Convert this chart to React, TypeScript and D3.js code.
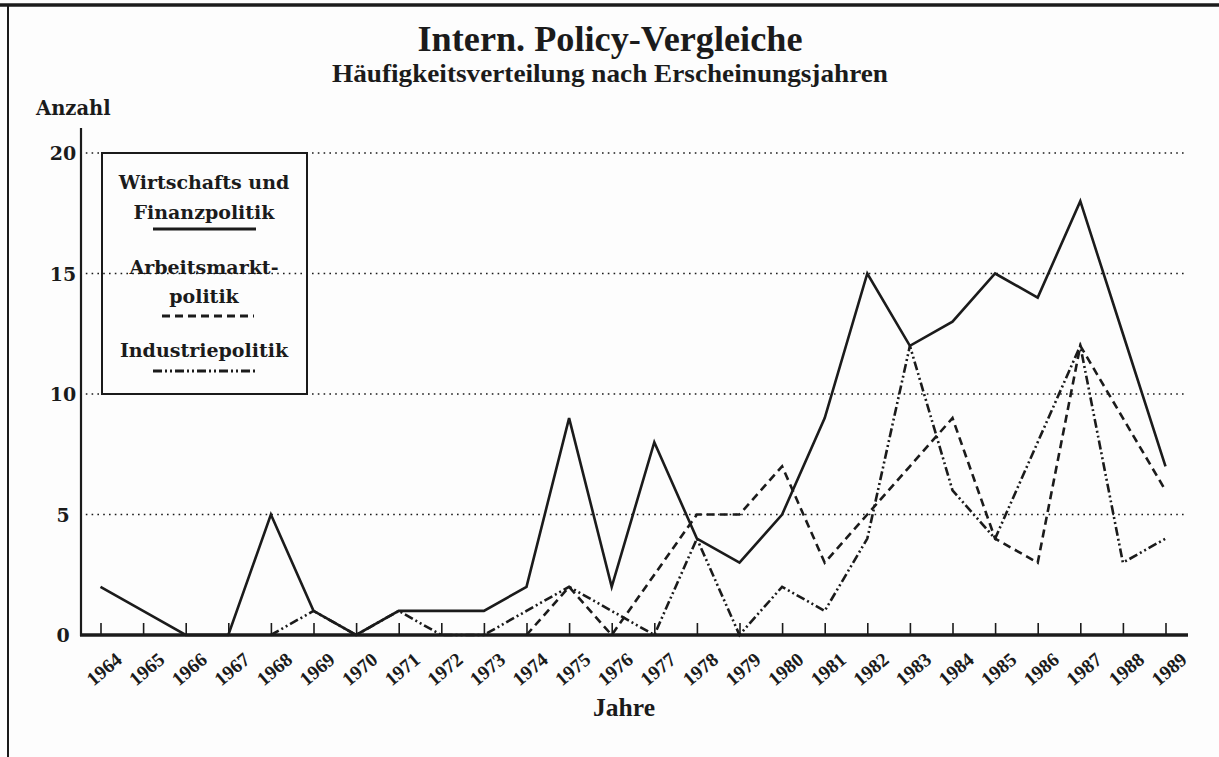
import React, { useEffect, useRef } from 'react';
import * as d3 from 'd3';

// Erscheinungsjahre (x categories)
const years = [
  1964, 1965, 1966, 1967, 1968, 1969, 1970, 1971, 1972, 1973, 1974, 1975, 1976,
  1977, 1978, 1979, 1980, 1981, 1982, 1983, 1984, 1985, 1986, 1987, 1988, 1989,
];

// Wirtschafts und Finanzpolitik (solid)
const wirtschaft = [2, 1, 0, 0, 5, 1, 0, 1, 1, 1, 2, 9, 2, 8, 4, 3, 5, 9, 15, 12, 13, 15, 14, 18, 12.5, 7];

// Arbeitsmarktpolitik (dashed) - starts 1974
const arbeitsmarkt = [
  null, null, null, null, null, null, null, null, null, null,
  0, 2, 0, 2.5, 5, 5, 7, 3, 5, 7, 9, 4, 3, 12, 9, 6,
];

// Industriepolitik (dash-dot-dot) - starts 1968
const industrie = [
  null, null, null, null,
  0, 1, 0, 1, 0, 0, 1, 2, 1, 0, 4, 0, 2, 1, 4, 12, 6, 4, 8, 12, 3, 4,
];

const yTicks = [0, 5, 10, 15, 20];
const gridValues = [5, 10, 15, 20];

const W = 1219;
const H = 757;
const INK = '#1b1b1b';
const SERIF = '"Liberation Serif", "Times New Roman", serif';
const SLAB = '"DejaVu Serif", serif';

const App: React.FC = () => {
  const svgRef = useRef<SVGSVGElement>(null);

  useEffect(() => {
    const svg = d3.select(svgRef.current);
    svg.selectAll('*').remove();

    const x = d3.scaleLinear().domain([1964, 1989]).range([100.5, 1165.5]);
    const y = d3.scaleLinear().domain([0, 20]).range([635, 153]);

    svg.append('rect').attr('width', W).attr('height', H).attr('fill', '#fdfdfd');

    // page frame (top rule + left rule)
    svg.append('line')
      .attr('x1', 0).attr('x2', W).attr('y1', 5).attr('y2', 5)
      .attr('stroke', INK).attr('stroke-width', 3.5);
    svg.append('line')
      .attr('x1', 8).attr('x2', 8).attr('y1', 5).attr('y2', H)
      .attr('stroke', INK).attr('stroke-width', 2);

    // Titles
    svg.append('text')
      .attr('x', 610).attr('y', 51)
      .attr('text-anchor', 'middle')
      .attr('font-family', SERIF).attr('font-weight', 'bold').attr('font-size', 36)
      .attr('textLength', 385).attr('lengthAdjust', 'spacingAndGlyphs')
      .attr('fill', INK)
      .text('Intern. Policy-Vergleiche');

    svg.append('text')
      .attr('x', 610).attr('y', 82)
      .attr('text-anchor', 'middle')
      .attr('font-family', SERIF).attr('font-weight', 'bold').attr('font-size', 25)
      .attr('textLength', 556).attr('lengthAdjust', 'spacingAndGlyphs')
      .attr('fill', INK)
      .text('Häufigkeitsverteilung nach Erscheinungsjahren');

    // Grid (dotted)
    svg.append('g')
      .selectAll('line')
      .data(gridValues)
      .enter().append('line')
      .attr('x1', 80).attr('x2', 1185)
      .attr('y1', d => y(d)).attr('y2', d => y(d))
      .attr('stroke', INK).attr('stroke-width', 1.6)
      .attr('stroke-dasharray', '1.6,4.2');

    // Y axis
    const yAxis = svg.append('g')
      .attr('transform', 'translate(81,0)')
      .call(d3.axisLeft(y).tickValues(yTicks).tickSize(0).tickFormat(d3.format('d')));
    yAxis.select('.domain').remove();
    yAxis.selectAll('text')
      .attr('x', -18)
      .attr('dy', '0.35em')
      .attr('text-anchor', 'middle')
      .attr('font-family', SLAB).attr('font-weight', 'bold').attr('font-size', 19)
      .attr('fill', INK);
    svg.append('line')
      .attr('x1', 81).attr('x2', 81).attr('y1', 128).attr('y2', 636)
      .attr('stroke', INK).attr('stroke-width', 2.2);

    svg.append('text')
      .attr('x', 36).attr('y', 115)
      .attr('font-family', SLAB).attr('font-weight', 'bold').attr('font-size', 19.5)
      .attr('fill', INK)
      .text('Anzahl');

    // X axis
    const xAxis = svg.append('g')
      .attr('transform', 'translate(0,635)')
      .call(d3.axisBottom(x).tickValues(years).tickSize(-12).tickSizeOuter(0).tickFormat(d3.format('d')));
    xAxis.select('.domain').remove();
    xAxis.selectAll('.tick line').attr('stroke', INK).attr('stroke-width', 1.6);
    xAxis.selectAll('text')
      .attr('x', 0).attr('y', 0).attr('dy', '0.35em')
      .attr('text-anchor', 'middle')
      .attr('transform', 'translate(3,34) rotate(-40)')
      .attr('font-family', SERIF).attr('font-weight', 'bold').attr('font-size', 19.5)
      .attr('fill', INK);
    svg.append('line')
      .attr('x1', 80).attr('x2', 1188).attr('y1', 635).attr('y2', 635)
      .attr('stroke', INK).attr('stroke-width', 3.5);

    svg.append('text')
      .attr('x', 624).attr('y', 716)
      .attr('text-anchor', 'middle')
      .attr('font-family', SERIF).attr('font-weight', 'bold').attr('font-size', 26)
      .attr('textLength', 62).attr('lengthAdjust', 'spacingAndGlyphs')
      .attr('fill', INK)
      .text('Jahre');

    // Lines
    const series = [
      { values: industrie, dash: '9,3,2,3,2,3' },
      { values: arbeitsmarkt, dash: '8,5' },
      { values: wirtschaft, dash: null },
    ];
    const line = d3.line<number | null>()
      .defined(d => d !== null)
      .x((_d, i) => x(years[i]))
      .y(d => y(d as number));

    series.forEach(s => {
      svg.append('path')
        .datum(s.values)
        .attr('d', line)
        .attr('fill', 'none')
        .attr('stroke', INK)
        .attr('stroke-width', 2.6)
        .attr('stroke-linejoin', 'miter')
        .attr('stroke-dasharray', s.dash);
    });

    // Legend box
    const lg = svg.append('g');
    lg.append('rect')
      .attr('x', 102).attr('y', y(20))
      .attr('width', 205).attr('height', y(10) - y(20))
      .attr('fill', 'none')
      .attr('stroke', INK).attr('stroke-width', 2);

    const legendText = [
      { t: 'Wirtschafts und', yy: 189 },
      { t: 'Finanzpolitik', yy: 219 },
      { t: 'Arbeitsmarkt-', yy: 274 },
      { t: 'politik', yy: 303 },
      { t: 'Industriepolitik', yy: 357 },
    ];
    lg.selectAll('text')
      .data(legendText)
      .enter().append('text')
      .attr('x', 204).attr('y', d => d.yy)
      .attr('text-anchor', 'middle')
      .attr('font-family', SLAB).attr('font-weight', 'bold').attr('font-size', 19)
      .attr('fill', INK)
      .text(d => d.t);

    const samples = [
      { yy: 229, x1: 153, x2: 256, dash: null },
      { yy: 316, x1: 162, x2: 254, dash: '8,5' },
      { yy: 371, x1: 153, x2: 256, dash: '9,3,2,3,2,3' },
    ];
    lg.selectAll('line.sample')
      .data(samples)
      .enter().append('line')
      .attr('class', 'sample')
      .attr('x1', d => d.x1).attr('x2', d => d.x2)
      .attr('y1', d => d.yy).attr('y2', d => d.yy)
      .attr('stroke', INK).attr('stroke-width', 3)
      .attr('stroke-dasharray', d => d.dash);
  }, []);

  return (
    <svg
      ref={svgRef}
      width={W}
      height={H}
      style={{ position: 'absolute', left: 0, top: 0, display: 'block' }}
    />
  );
};

export default App;
